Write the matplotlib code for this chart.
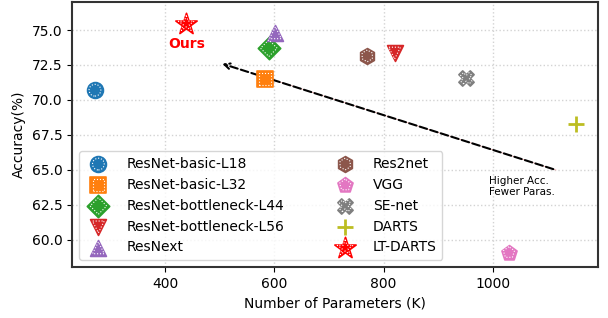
import numpy as np
import matplotlib
matplotlib.use("Agg")
import matplotlib.pyplot as plt
from matplotlib.legend_handler import HandlerTuple

# DATA
names = ['ResNet-basic-L18', 'ResNet-basic-L32', 'ResNet-bottleneck-L44',
         'ResNet-bottleneck-L56', 'ResNext', 'Res2net', 'VGG', 'SE-net',
         'DARTS', 'LT-DARTS']
params = [272, 583, 590, 820, 602, 770, 1029, 951, 1151, 439]
acc = [70.7, 71.5, 73.7, 73.35, 74.8, 73.15, 59.1, 71.55, 68.25, 75.45]
markers = ['o', 's', 'D', 'v', '^', 'h', 'p', 'X', '+', '*']
colors = ['C0', 'C1', 'C2', 'C3', 'C4', 'C5', 'C6', 'C7', 'C8', 'red']
sizes = [130, 130, 130, 130, 130, 130, 130, 120, 130, 260]

# arrow: from tail to head
arrow_tail = (1115, 65.0)
arrow_head = (500, 72.65)

fig, ax = plt.subplots(figsize=(6.08, 3.18), dpi=100)
fig.subplots_adjust(left=0.1184, right=0.9836, top=0.9937, bottom=0.1604)

# thin pink guide under the dashed arrow
ax.plot([585, arrow_tail[0]], [71.6, arrow_tail[1]], color='lightcoral', lw=0.6, alpha=0.6, zorder=1)

handles = []
for i in range(len(names)):
    h1 = ax.scatter(params[i], acc[i], marker=markers[i], s=sizes[i], color=colors[i],
                    linewidths=1.2 if markers[i] != '+' else 2.0, zorder=3)
    if markers[i] == '+':
        handles.append(h1)
        continue
    # white dotted inner outline
    h2 = ax.scatter(params[i], acc[i], marker=markers[i], s=sizes[i] * 0.55, facecolors='none',
                    edgecolors='white', linewidths=0.8, linestyles=':', zorder=4)
    handles.append((h1, h2))

ax.text(params[9], acc[9] - 1.45, 'Ours', color='red', fontsize=10, fontweight='bold',
        ha='center', va='center')

ax.annotate('', xy=arrow_head, xytext=arrow_tail,
            arrowprops=dict(arrowstyle='->', color='black', lw=1.5, linestyle='--'), zorder=2)
ax.text(992, 64.55, 'Higher Acc.\nFewer Paras.', fontsize=7.5, ha='left', va='top', linespacing=1.1)

ax.set_xlim(230, 1192)
ax.set_ylim(58.07, 77.0)
ax.set_yticks([60.0, 62.5, 65.0, 67.5, 70.0, 72.5, 75.0])
ax.set_xticks([400, 600, 800, 1000])
ax.set_xlabel('Number of Parameters (K)', fontsize=10)
ax.set_ylabel('Accuracy(%)', fontsize=10)
ax.tick_params(labelsize=10)
ax.grid(True, linestyle=':', color='lightgray', lw=1)
ax.set_axisbelow(True)
for s in ax.spines.values():
    s.set_linewidth(1.5)
    s.set_color('#333333')

ax.legend(handles, names, ncol=2, loc='lower left', fontsize=10,
          handler_map={tuple: HandlerTuple(ndivide=1, pad=0)},
          columnspacing=3.4, handletextpad=1.0)

fig.savefig('out.png')
